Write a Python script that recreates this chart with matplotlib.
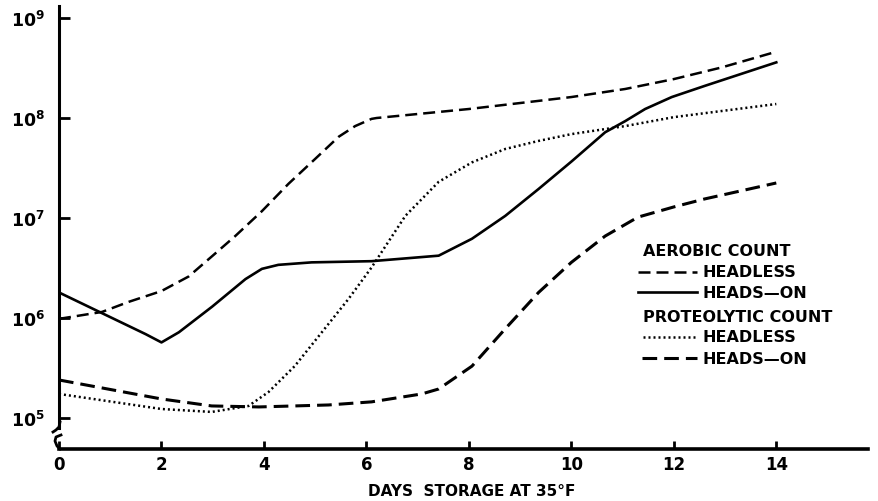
import matplotlib
matplotlib.use('Agg')
import matplotlib.pyplot as plt
import numpy as np

# aerobic count, headless
aer_headless_days = [0, 0.84, 1.36, 2.0, 2.53, 3.0, 3.44, 3.96, 4.48, 5.0, 5.46, 5.78, 6.1,
                     6.2, 8.0, 10.0, 11.05, 12.0, 12.93, 14.0]
aer_headless = [9.8e5, 1.15e6, 1.45e6, 1.86e6, 2.6e6, 4.2e6, 6.6e6, 1.17e7, 2.2e7, 3.9e7,
                6.5e7, 8.3e7, 9.8e7, 1.0e8, 1.23e8, 1.62e8, 1.95e8, 2.45e8, 3.2e8, 4.6e8]

# aerobic count, heads-on
aer_headson_days = [0, 1.69, 2.0, 2.34, 2.99, 3.64, 3.96, 4.28, 4.93, 6.1, 7.41, 8.06, 8.71,
                    9.36, 10.01, 10.66, 11.05, 11.44, 11.96, 12.61, 14.0]
aer_headson = [1.8e6, 6.9e5, 5.7e5, 7.2e5, 1.3e6, 2.45e6, 3.1e6, 3.4e6, 3.6e6, 3.7e6, 4.2e6,
               6.2e6, 1.05e7, 1.95e7, 3.7e7, 7.2e7, 9.3e7, 1.23e8, 1.62e8, 2.1e8, 3.6e8]

# proteolytic count, headless
pro_headless_days = [0, 2.0, 2.98, 3.7, 4.09, 4.6, 5.13, 5.65, 6.1, 6.76, 7.41, 8.06, 8.71,
                     9.36, 10.0, 11.05, 12.0, 14.0]
pro_headless = [1.74e5, 1.23e5, 1.15e5, 1.32e5, 1.82e5, 3.3e5, 7.2e5, 1.55e6, 3.2e6, 1.05e7,
                2.3e7, 3.6e7, 4.9e7, 5.9e7, 6.9e7, 8.3e7, 1.02e8, 1.38e8]

# proteolytic count, heads-on
pro_headson_days = [0, 2.0, 2.98, 3.9, 5.26, 6.1, 7.08, 7.41, 8.06, 8.71, 9.36, 10.0, 10.66,
                    11.3, 12.0, 12.6, 14.0]
pro_headson = [2.4e5, 1.55e5, 1.32e5, 1.29e5, 1.35e5, 1.45e5, 1.74e5, 1.95e5, 3.3e5, 7.8e5,
               1.8e6, 3.6e6, 6.6e6, 1.02e7, 1.29e7, 1.55e7, 2.24e7]

x_ticks = [0, 2, 4, 6, 8, 10, 12, 14]
y_ticks = [1e5, 1e6, 1e7, 1e8, 1e9]
y_ticklabels = [r'$\mathbf{10^{5}}$', r'$\mathbf{10^{6}}$', r'$\mathbf{10^{7}}$',
                r'$\mathbf{10^{8}}$', r'$\mathbf{10^{9}}$']

W, H = 879, 502
plt.rcParams['font.family'] = 'DejaVu Sans'
plt.rcParams['mathtext.fontset'] = 'dejavusans'

fig = plt.figure(figsize=(W / 100, H / 100), dpi=100)
ax = fig.add_axes([59 / W, 1 - 450 / H, (868 - 59) / W, (450 - 7) / H])


def px(x, y):
    return x / W, 1 - y / H


style_a = dict(color='black', lw=1.8, linestyle=(0, (4.8, 2.4)))
style_b = dict(color='black', lw=1.9, linestyle='-')
style_c = dict(color='black', lw=1.8, linestyle=(0, (0.8, 1.2)))
style_d = dict(color='black', lw=2.2, linestyle=(0, (4.8, 2.3)))

ax.plot(aer_headless_days, aer_headless, **style_a)
ax.plot(aer_headson_days, aer_headson, **style_b)
ax.plot(pro_headless_days, pro_headless, **style_c)
ax.plot(pro_headson_days, pro_headson, **style_d)

ax.set_yscale('log')
ax.set_xlim(0, 15.79)
ax.set_ylim(10 ** 4.69, 10 ** 9.12)
ax.set_yticks(y_ticks)
ax.set_yticklabels(y_ticklabels)
ax.minorticks_off()
ax.set_xticks(x_ticks)
ax.set_xticklabels([str(t) for t in x_ticks], fontweight='bold')

ax.tick_params(axis='y', direction='in', length=8, width=2, labelsize=12.5, pad=10)
ax.tick_params(axis='x', direction='in', length=6, width=2, labelsize=12, pad=4)

for s in ['top', 'right']:
    ax.spines[s].set_visible(False)
ax.spines['left'].set_linewidth(2.2)
ax.spines['bottom'].set_linewidth(2.6)
ax.spines['left'].set_bounds(10 ** 4.9, 10 ** 9.12)

# axis break marks
bx, by = px(np.array([60, 59, 56, 53]), np.array([423, 428, 431, 433]))
fig.add_artist(plt.Line2D(bx, by, color='black', lw=2))
bx, by = px(np.array([61, 56, 55, 57, 60]), np.array([436, 438, 442, 447, 450]))
fig.add_artist(plt.Line2D(bx, by, color='black', lw=2))

fig.text(472 / W, 1 - 492 / H, 'DAYS  STORAGE AT 35°F', fontsize=11, fontweight='bold',
         ha='center', va='center')

# legend
fig.text(*px(643, 252), 'AEROBIC COUNT', fontsize=11.5, fontweight='bold', va='center')
fig.text(*px(643, 318), 'PROTEOLYTIC COUNT', fontsize=11.5, fontweight='bold', va='center')
entries = [(273, style_a, 638), (293, style_b, 638), (338, style_c, 643), (359, style_d, 642)]
for yy, st, x0 in entries:
    lx, ly = px(np.array([x0, 697]), np.array([yy, yy]))
    fig.add_artist(plt.Line2D(lx, ly, **st))
for yy, label in [(273, 'HEADLESS'), (293, 'HEADS\u2014ON'), (338, 'HEADLESS'), (359, 'HEADS\u2014ON')]:
    fig.text(*px(703, yy), label, fontsize=11.5, fontweight='bold', va='center')

fig.savefig('out.png', dpi=100)
